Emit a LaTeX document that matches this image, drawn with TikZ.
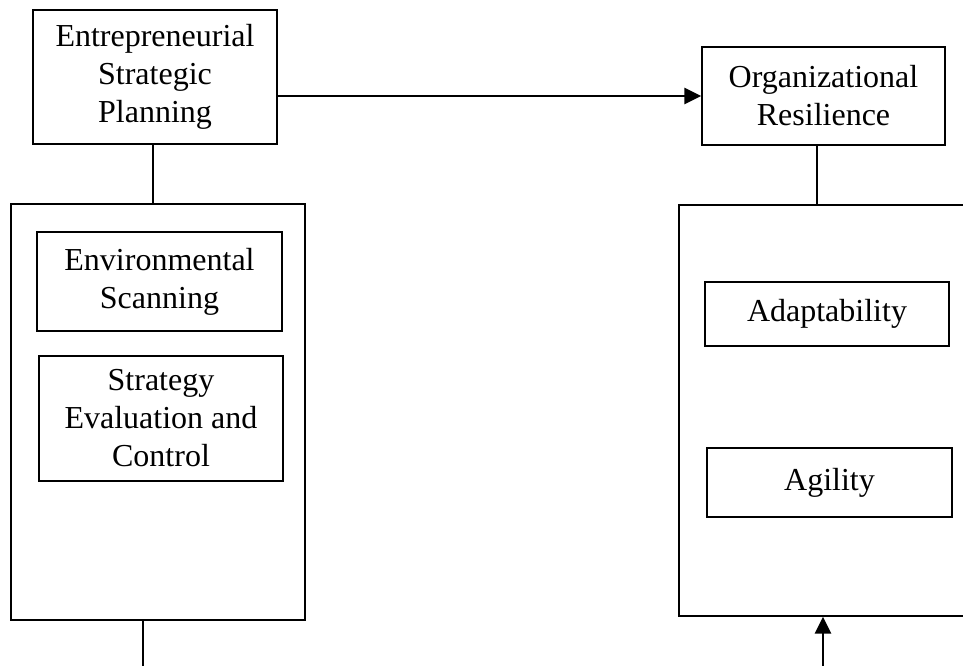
\documentclass[tikz,border=0pt]{standalone}
\usepackage{fontspec}
\setmainfont{Liberation Serif}
\usetikzlibrary{arrows.meta}
\begin{document}
\begin{tikzpicture}[x=1pt,y=-1pt,
  box/.style={draw=black,line width=1.4pt,rectangle,inner sep=0pt,align=center,
    font=\fontsize{32}{38}\selectfont},
  conn/.style={draw=black,line width=1.4pt},
  thick conn/.style={draw=black,line width=2.8pt},
  arr/.style={draw=black,line width=2.8pt,-{Triangle[length=17pt,width=16pt]}}]
\useasboundingbox (0,0) rectangle (963,666);
\clip (0,0) rectangle (963,666);
\node[box,minimum width=244pt,minimum height=134pt] (ESP) at (155,77) {Entrepreneurial\\Strategic\\Planning};
\node[box,minimum width=243pt,minimum height=98pt] (OR) at (823.5,96) {Organizational\\Resilience};
\node[box,minimum width=294pt,minimum height=416pt] (LB) at (158,412) {};
\node[box,minimum width=311pt,minimum height=411pt] (RB) at (834.5,410.5) {};
\node[box,minimum width=245pt,minimum height=99pt] (ENV) at (159.5,281.5) {Environmental\\Scanning};
\node[box,minimum width=244pt,minimum height=125pt] (SEC) at (161,418.5) {Strategy\\Evaluation and\\Control};
\node[box,minimum width=244pt,minimum height=64pt] (ADA) at (827,314) {Adaptability};
\node[box,minimum width=245pt,minimum height=69pt] (AGI) at (829.5,482.5) {Agility};
\coordinate (bl) at (143,666);
\coordinate (br) at (823,666);
\coordinate (orl) at (817,145);
\draw[arr] (ESP.east |- OR.west) -- (OR.west);
\draw[conn] ([xshift=-2pt]ESP.south) -- ([xshift=-2pt]ESP.south |- LB.north);
\draw[conn] (orl) -- (orl |- RB.north);
\draw[thick conn] (LB.south -| bl) -- (bl);
\draw[arr] (br) -- (br |- RB.south);
\end{tikzpicture}
\end{document}
